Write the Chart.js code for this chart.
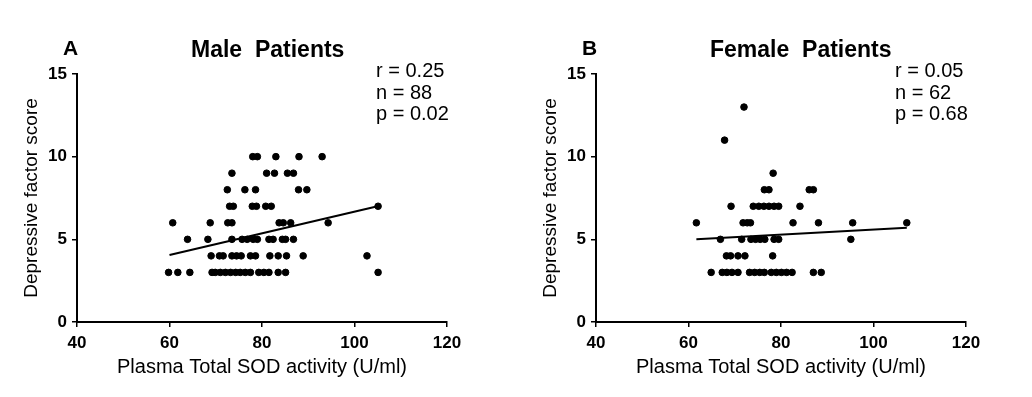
<!DOCTYPE html>
<html>
<head>
<meta charset="utf-8">
<script src="https://cdn.jsdelivr.net/npm/chart.js@4"></script>
<style>
  body { margin: 0; background: #fff; }
  #wrap { position: relative; width: 1032px; height: 397px; }
  .panel { position: absolute; top: 0; width: 513px; height: 397px; }
</style>
</head>
<body>
<div id="wrap">
  <div class="panel" style="left:0"><canvas id="maleChart" width="513" height="397"></canvas></div>
  <div class="panel" style="left:519px"><canvas id="femaleChart" width="513" height="397"></canvas></div>
</div>
<script>
// values: x = plasma SOD (U/ml), y = depressive factor score
const maleSOD = [
  78, 79, 83, 88, 93,
  73.5, 81, 82.7, 85.5, 86.8,
  72.5, 76.3, 78.6, 87.9, 89.7,
  73, 73.8, 77.9, 78.8, 80.8, 82, 105.1,
  60.7, 68.8, 72.6, 73.5, 83.7, 84.6, 86.2, 94.3,
  63.9, 68.3, 73.5, 75.7, 76.8, 78.1, 79, 81.5, 82.4, 84.4, 85.1, 86.8,
  69, 70.8, 71.6, 73.5, 74.5, 75.5, 77.5, 78.6, 81.7, 83.5, 85.3, 88.9, 102.7,
  59.8, 61.8, 64.4, 69.2, 69.9, 71, 72.1, 73.2, 74.3, 75.3, 76.4, 77.5, 79.3, 80.4, 81.5, 83.5, 85.1, 105.1
];
const maleScore = [
  10, 10, 10, 10, 10,
  9, 9, 9, 9, 9,
  8, 8, 8, 8, 8,
  7, 7, 7, 7, 7, 7, 7,
  6, 6, 6, 6, 6, 6, 6, 6,
  5, 5, 5, 5, 5, 5, 5, 5, 5, 5, 5, 5,
  4, 4, 4, 4, 4, 4, 4, 4, 4, 4, 4, 4, 4,
  3, 3, 3, 3, 3, 3, 3, 3, 3, 3, 3, 3, 3, 3, 3, 3, 3, 3
];
const femaleSOD = [
  72,
  67.8,
  78.3,
  76.4, 77.4, 86.1, 87,
  69.2, 74, 75.2, 76.3, 77.4, 78.5, 79.5, 84.1,
  61.7, 71.8, 72.7, 73.4, 82.6, 88.1, 95.5, 107.2,
  66.9, 71.5, 73.5, 74.5, 75.5, 76.5, 78.5, 79.5, 95.1,
  68.2, 69.1, 70.7, 72.2, 78.2,
  64.9, 67.3, 68.3, 69.4, 70.7, 73.2, 74.3, 75.4, 76.4, 77.9, 79, 80.1, 81.2, 82.4, 87, 88.7
];
const femaleScore = [
  13,
  11,
  9,
  8, 8, 8, 8,
  7, 7, 7, 7, 7, 7, 7, 7,
  6, 6, 6, 6, 6, 6, 6, 6,
  5, 5, 5, 5, 5, 5, 5, 5, 5,
  4, 4, 4, 4, 4,
  3, 3, 3, 3, 3, 3, 3, 3, 3, 3, 3, 3, 3, 3, 3, 3
];
// regression line end points
const maleFitX = [60, 105];
const maleFitY = [4.05, 7.0];
const femaleFitX = [61.7, 107.2];
const femaleFitY = [5.0, 5.7];

const maleStats = ['r = 0.25', 'n = 88', 'p = 0.02'];
const femaleStats = ['r = 0.05', 'n = 62', 'p = 0.68'];

const xTitle = 'Plasma Total SOD activity (U/ml)';
const yTitle = 'Depressive factor score';

const FONT = '"Liberation Sans", Arial, sans-serif';
Chart.defaults.font.family = FONT;
Chart.defaults.color = '#000';

// letter, title and statistics above the plot
const panelText = {
  id: 'panelText',
  afterDraw(chart, args, opts) {
    const ctx = chart.ctx;
    const left = chart.chartArea.left;
    ctx.save();
    ctx.fillStyle = '#000';
    ctx.textBaseline = 'alphabetic';
    ctx.textAlign = 'left';
    ctx.font = 'bold 21px ' + FONT;
    ctx.fillText(opts.letter, left - 14, 55);
    ctx.font = 'bold 23px ' + FONT;
    ctx.fillText(opts.title, left + 114, 57);
    ctx.font = '20px ' + FONT;
    opts.stats.forEach(function (s, i) {
      ctx.fillText(s, left + 299, 77 + i * 21.5);
    });
    ctx.restore();
  },
};

function makePoints(xs, ys) {
  return xs.map(function (x, i) {
    return { x: x, y: ys[i] };
  });
}

function makeChart(id, xs, ys, fx, fy, letter, title, stats) {
  const ctx = document.getElementById(id).getContext('2d');
  return new Chart(ctx, {
    type: 'scatter',
    data: {
      datasets: [
        {
          data: makePoints(xs, ys),
          backgroundColor: '#000',
          borderColor: '#000',
          pointRadius: 3.3,
          pointHoverRadius: 3.3,
        },
        {
          data: makePoints(fx, fy),
          showLine: true,
          borderColor: '#000',
          borderWidth: 2,
          pointRadius: 0,
        },
      ],
    },
    options: {
      responsive: false,
      animation: false,
      layout: { padding: { top: 74, right: 66, bottom: 0, left: 0 } },
      plugins: {
        legend: { display: false },
        tooltip: { enabled: false },
        panelText: { letter: letter, title: title, stats: stats },
      },
      scales: {
        x: {
          type: 'linear',
          min: 40,
          max: 120,
          ticks: { stepSize: 20, padding: 6, font: { size: 17, weight: 'bold' } },
          grid: { drawOnChartArea: false, color: '#000', lineWidth: 1.5, tickLength: 5 },
          border: { display: true, color: '#000', width: 2 },
          title: { display: true, text: xTitle, font: { size: 20 }, padding: { top: 0, bottom: 18 } },
          afterFit: function (scale) { scale.height = 75; },
        },
        y: {
          min: 0,
          max: 15,
          ticks: { stepSize: 5, padding: 5, font: { size: 17, weight: 'bold' } },
          grid: { drawOnChartArea: false, color: '#000', lineWidth: 1.5, tickLength: 5 },
          border: { display: true, color: '#000', width: 2 },
          title: { display: true, text: yTitle, font: { size: 19 }, padding: { top: 20, bottom: 0 } },
          afterFit: function (scale) { scale.width = 77; },
        },
      },
    },
    plugins: [panelText],
  });
}

makeChart('maleChart', maleSOD, maleScore, maleFitX, maleFitY, 'A', 'Male  Patients', maleStats);
makeChart('femaleChart', femaleSOD, femaleScore, femaleFitX, femaleFitY, 'B', 'Female  Patients', femaleStats);
</script>
</body>
</html>
